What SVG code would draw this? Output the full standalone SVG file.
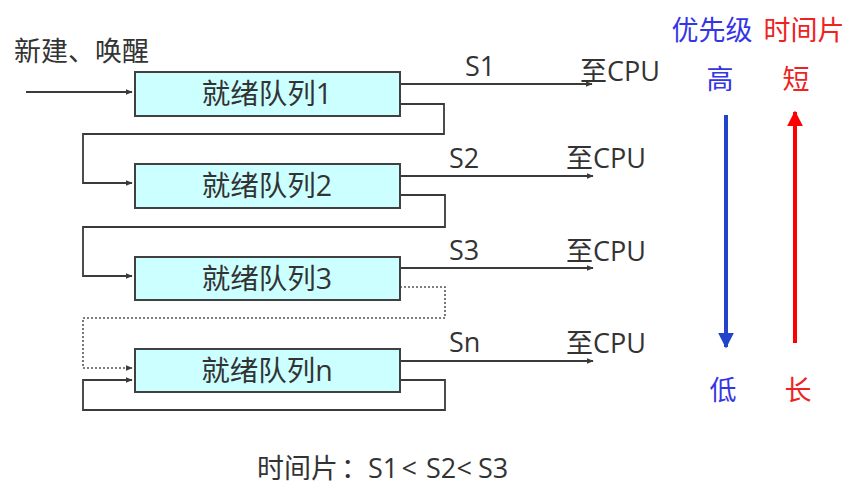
<svg xmlns="http://www.w3.org/2000/svg" width="856" height="500" viewBox="0 0 856 500">
  <style>
    .t { font-family: "Open Sans", "Noto Sans CJK SC", sans-serif; fill: #333333; font-size: 27px; }
    .box { fill: #ccffff; stroke: #404040; stroke-width: 2; }
    .lbl { font-family: "Open Sans", "Noto Sans CJK SC", sans-serif; fill: #333333; font-size: 28.5px; text-anchor: middle; }
    .ln { fill: none; stroke: #3a3a3a; stroke-width: 1.8; }
    .dot { fill: none; stroke: #555555; stroke-width: 1.6; stroke-dasharray: 2 2; }
    .blue { font-family: "Open Sans", "Noto Sans CJK SC", sans-serif; fill: #3535e6; font-size: 27px; text-anchor: middle; }
    .red { font-family: "Open Sans", "Noto Sans CJK SC", sans-serif; fill: #ee2222; font-size: 27px; text-anchor: middle; }
  </style>
  <defs>
    <marker id="ah" viewBox="0 0 10 10" refX="9" refY="5" markerWidth="7" markerHeight="7" markerUnits="userSpaceOnUse" orient="auto">
      <path d="M0,1 L10,5 L0,9 z" fill="#3a3a3a"/>
    </marker>
    <marker id="ahb" viewBox="0 0 10 10" refX="9" refY="5" markerWidth="4" markerHeight="4" orient="auto">
      <path d="M0,0 L10,5 L0,10 z" fill="#2244cc"/>
    </marker>
    <marker id="ahr" viewBox="0 0 10 10" refX="9" refY="5" markerWidth="4" markerHeight="4" orient="auto">
      <path d="M0,0 L10,5 L0,10 z" fill="#ff0000"/>
    </marker>
  </defs>

  <text class="t" x="14" y="61" font-size="27.5">新建、唤醒</text>

  <g id="connectors">
    <path class="ln" d="M26,92 H132" marker-end="url(#ah)"/>
    <!-- queue exits to CPU -->
    <path class="ln" d="M400,84 H592" marker-end="url(#ah)"/>
    <path class="ln" d="M400,176 H593" marker-end="url(#ah)"/>
    <path class="ln" d="M400,268 H593" marker-end="url(#ah)"/>
    <path class="ln" d="M400,361 H593" marker-end="url(#ah)"/>
    <!-- demotion paths -->
    <path class="ln" d="M400,104 H444 V134 H83 V183 H132" marker-end="url(#ah)"/>
    <path class="ln" d="M400,195 H445 V227 H83 V276 H132" marker-end="url(#ah)"/>
    <path class="dot" d="M400,287 H445 V318 H83 V368 H132" marker-end="url(#ah)"/>
    <path class="ln" d="M400,380 H445 V410 H83 V380 H132" marker-end="url(#ah)"/>
  </g>

  <g id="q1">
    <rect class="box" x="135" y="72" width="265" height="44"/>
    <text class="lbl" x="267" y="104">就绪队列1</text>
  </g>
  <g id="q2">
    <rect class="box" x="135" y="164" width="265" height="44"/>
    <text class="lbl" x="267" y="196">就绪队列2</text>
  </g>
  <g id="q3">
    <rect class="box" x="135" y="257" width="265" height="43"/>
    <text class="lbl" x="267" y="289">就绪队列3</text>
  </g>
  <g id="qn">
    <rect class="box" x="135" y="349" width="265" height="43"/>
    <text class="lbl" x="267" y="381">就绪队列n</text>
  </g>

  <g id="slices">
    <text class="t" x="465" y="76">S1</text>
    <text class="t" x="449" y="168">S2</text>
    <text class="t" x="449" y="260">S3</text>
    <text class="t" x="449" y="352">Sn</text>
    <text class="t" x="580" y="81">至CPU</text>
    <text class="t" x="566" y="168">至CPU</text>
    <text class="t" x="566" y="261">至CPU</text>
    <text class="t" x="566" y="353">至CPU</text>
  </g>

  <g id="legend">
    <text class="blue" x="712" y="40">优先级</text>
    <text class="red" x="804" y="40">时间片</text>
    <text class="blue" x="720" y="89">高</text>
    <text class="red" x="796" y="89">短</text>
    <text class="blue" x="723" y="400">低</text>
    <text class="red" x="798" y="400">长</text>
    <path d="M726,115 V347" stroke="#2244cc" stroke-width="4" fill="none" marker-end="url(#ahb)"/>
    <path d="M795,343 V112" stroke="#ff0000" stroke-width="4" fill="none" marker-end="url(#ahr)"/>
  </g>

  <text class="t" y="478" font-size="26"><tspan x="257">时间片</tspan><tspan x="341">：</tspan><tspan x="368">S1</tspan><tspan x="401.5">&lt;</tspan><tspan x="426">S2</tspan><tspan x="456.5">&lt;</tspan><tspan x="478">S3</tspan></text>
</svg>
